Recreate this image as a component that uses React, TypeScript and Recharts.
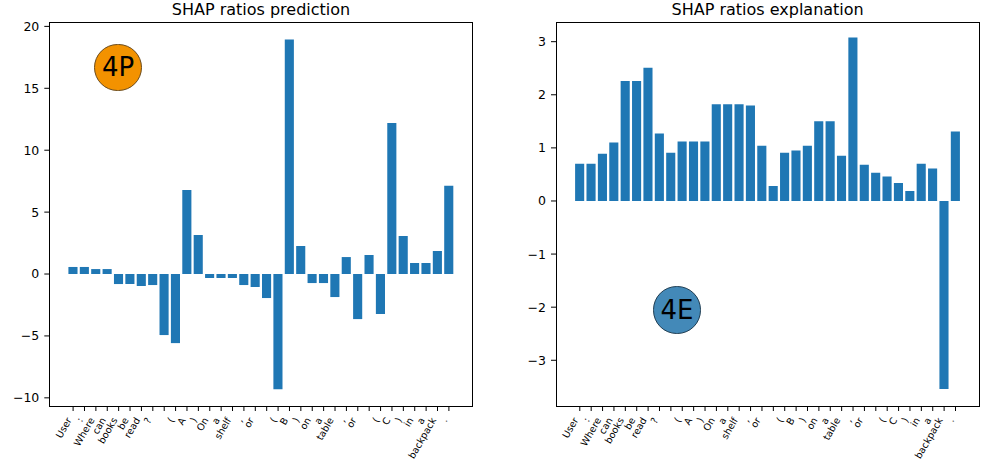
import { BarChart, Bar, XAxis, YAxis } from 'recharts';

// tokens of the prompt, blank ones are line breaks
const tokens = [
  'User', ':', 'Where', 'can', 'books', 'be', 'read', '?', '',
  '(', 'A', ')', 'On', 'a', 'shelf', ',', 'or', '',
  '(', 'B', ')', 'on', 'a', 'table', ',', 'or', '',
  '(', 'C', ')', 'in', 'a', 'backpack', '.',
];

const predictionRatios = [
  0.57, 0.57, 0.4, 0.4, -0.81, -0.81, -0.97, -0.89, -4.93,
  -5.58, 6.79, 3.15, -0.32, -0.32, -0.32, -0.89, -1.05, -1.94,
  -9.3, 18.95, 2.26, -0.73, -0.73, -1.86, 1.37, -3.64, 1.54,
  -3.23, 12.2, 3.07, 0.89, 0.89, 1.86, 7.12,
];

const explanationRatios = [
  0.7, 0.7, 0.89, 1.1, 2.26, 2.26, 2.51, 1.27, 0.91,
  1.12, 1.12, 1.12, 1.82, 1.82, 1.82, 1.8, 1.04, 0.28,
  0.91, 0.95, 1.04, 1.5, 1.5, 0.85, 3.08, 0.68, 0.53,
  0.46, 0.34, 0.19, 0.7, 0.61, -3.54, 1.31,
];

const predictionTicks = [-10, -5, 0, 5, 10, 15, 20];
const explanationTicks = [-3, -2, -1, 0, 1, 2, 3];

const FONT = 'DejaVu Sans, sans-serif';
const BAR_COLOR = '#1f77b4';

const fmt = (v: number) => (v < 0 ? `\u2212${Math.abs(v)}` : `${v}`);

const TokenTick = ({ x, y, payload }: any) => (
  <g transform={`translate(${x - 1},${y + 7})`}>
    <text textAnchor="end" transform="rotate(-60)" fontSize={9.6} fontFamily={FONT} fill="#000">
      {tokens[payload.value]}
    </text>
  </g>
);

interface PanelProps {
  title: string;
  values: number[];
  domain: [number, number];
  ticks: number[];
  left: number;
  width: number;
  plotLeft: number;
  plotRight: number;
}

const PLOT_TOP = 22.3;
const PLOT_BOTTOM = 407;
const HEIGHT = 466;

function Panel({ title, values, domain, ticks, left, width, plotLeft, plotRight }: PanelProps) {
  const data = tokens.map((t, i) => ({ i, token: t, value: values[i] }));
  const yAxisWidth = 40;
  const xAxisHeight = 50;
  const plotW = plotRight - plotLeft;
  // matplotlib xlim = [-0.4 - margin, 33.4 + margin]
  const unit = plotW / (33.8 * 1.1);
  const pad = unit * 2.09 - unit / 2;
  return (
    <>
      <div
        style={{
          position: 'absolute',
          left: left + plotLeft - 100,
          width: plotW + 200,
          top: 1.5,
          textAlign: 'center',
          fontFamily: FONT,
          fontSize: 16,
          lineHeight: '16px',
          color: '#000',
        }}
      >
        {title}
      </div>
      <div style={{ position: 'absolute', left, top: 0 }}>
        <BarChart
          width={width}
          height={HEIGHT}
          data={data}
          margin={{
            top: PLOT_TOP,
            left: plotLeft - yAxisWidth,
            right: width - plotRight,
            bottom: HEIGHT - PLOT_BOTTOM - xAxisHeight,
          }}
        >
          <XAxis
            dataKey="i"
            type="category"
            interval={0}
            height={xAxisHeight}
            padding={{ left: pad, right: pad }}
            axisLine={false}
            tickLine={{ stroke: '#000' }}
            tickSize={4}
            tickMargin={2}
            tick={<TokenTick />}
          />
          <YAxis
            type="number"
            width={yAxisWidth}
            domain={domain}
            ticks={ticks}
            allowDataOverflow
            axisLine={false}
            tickLine={{ stroke: '#000' }}
            tickSize={5}
            tickMargin={5}
            tickFormatter={fmt}
            tick={{ fontSize: 12.5, fill: '#000', fontFamily: FONT }}
          />
          <Bar dataKey="value" fill={BAR_COLOR} barSize={unit * 0.8} isAnimationActive={false} />
        </BarChart>
      </div>
      <div
        style={{
          position: 'absolute',
          left: left + plotLeft - 0.5,
          top: PLOT_TOP - 0.5,
          width: plotW + 1,
          height: PLOT_BOTTOM - PLOT_TOP + 1,
          border: '1px solid #000',
          boxSizing: 'border-box',
          pointerEvents: 'none',
        }}
      />
    </>
  );
}

function Badge({ label, cx, cy, fill, edge }: { label: string; cx: number; cy: number; fill: string; edge: string }) {
  const r = 23.7;
  return (
    <div
      style={{
        position: 'absolute',
        left: cx - r,
        top: cy - r,
        width: r * 2,
        height: r * 2,
        borderRadius: '50%',
        background: fill,
        border: `1px solid ${edge}`,
        boxSizing: 'border-box',
        display: 'flex',
        alignItems: 'center',
        justifyContent: 'center',
        fontFamily: FONT,
        fontSize: 26,
        color: '#000',
      }}
    >
      {label}
    </div>
  );
}

export default function App() {
  return (
    <div style={{ position: 'absolute', left: 0, top: 0, width: 989, height: 466, background: '#fff' }}>
      <Panel
        title="SHAP ratios prediction"
        values={predictionRatios}
        domain={[-10.74, 20.33]}
        ticks={predictionTicks}
        left={0}
        width={494}
        plotLeft={49.3}
        plotRight={472.7}
      />
      <Panel
        title="SHAP ratios explanation"
        values={explanationRatios}
        domain={[-3.88, 3.365]}
        ticks={explanationTicks}
        left={494}
        width={495}
        plotLeft={62}
        plotRight={485.3}
      />
      <Badge label="4P" cx={118} cy={67.5} fill="#f39200" edge="#6b4a1a" />
      <Badge label="4E" cx={677} cy={310} fill="#4389b8" edge="#1f3d52" />
    </div>
  );
}
